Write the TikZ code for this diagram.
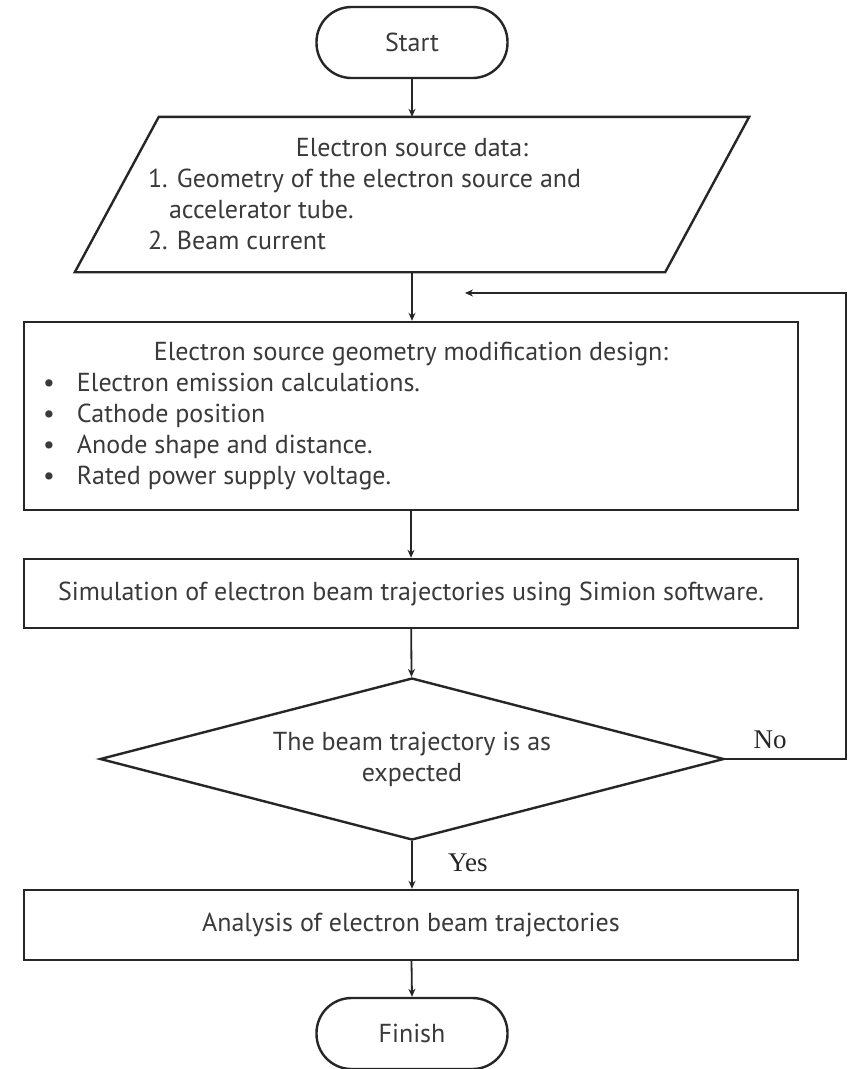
\documentclass[tikz,border=0pt]{standalone}
\usepackage{fontspec}
\setmainfont{PT Sans}
\newfontfamily\serifyn{Liberation Serif}
\usetikzlibrary{shapes.geometric,arrows.meta}
\definecolor{linec}{HTML}{262626}
\definecolor{textc}{HTML}{3A3A3A}
\begin{document}
\begin{tikzpicture}[x=1pt,y=-1pt,
  every node/.style={text=textc,font=\fontsize{26}{31}\selectfont},
  boxline/.style={draw=linec,line width=2.4pt},
  procbox/.style={boxline,rectangle,minimum width=774pt,inner sep=0pt},
  termbox/.style={boxline,rectangle,rounded corners=35pt,minimum width=191pt,minimum height=71pt,inner sep=0pt},
  conn/.style={draw=linec,line width=1.8pt,-{Stealth[length=8pt,width=7pt]}},
  yn/.style={text=linec,font=\serifyn\fontsize{27}{30}\selectfont}]
\useasboundingbox[fill=white] (0,0) rectangle (848,1069);

\node[termbox] (start) at (412,42.5) {Start};

\node[rectangle,minimum width=674pt,minimum height=155pt,inner sep=0pt] (para) at (412,194.5)
 {\begin{minipage}{674pt}\centering Electron source data:\par\raggedright
  \hspace*{73pt}1. Geometry of the electron source and\par
  \hspace*{94pt}accelerator tube.\par
  \hspace*{73pt}2. Beam current\par\end{minipage}};
\draw[boxline,line join=miter] (para.south west) -- ([xshift=84pt]para.north west) -- (para.north east) -- ([xshift=-84pt]para.south east) -- cycle;

\node[procbox,minimum height=188pt] (design) at (411,416)
 {\begin{minipage}{774pt}\centering Electron source geometry modification design:\par\raggedright
  \hspace*{19pt}\makebox[34pt][l]{\textbullet}Electron emission calculations.\par
  \hspace*{19pt}\makebox[34pt][l]{\textbullet}Cathode position\par
  \hspace*{19pt}\makebox[34pt][l]{\textbullet}Anode shape and distance.\par
  \hspace*{19pt}\makebox[34pt][l]{\textbullet}Rated power supply voltage.\par\end{minipage}};

\node[procbox,minimum height=69pt] (sim) at (411,593.5) {Simulation of electron beam trajectories using Simion software.};

\node[boxline,diamond,aspect=3.85,minimum width=624pt,minimum height=162pt,inner sep=0pt,align=center] (dec) at (412,759)
 {The beam trajectory is as\\expected};

\node[procbox,minimum height=70pt] (ana) at (411,925) {Analysis of electron beam trajectories};

\node[termbox] (finish) at (412,1033.5) {Finish};

\coordinate (loopc) at (846,293);
\coordinate (loopend) at (465,293);

\draw[conn] (start) -- (para.north);
\draw[conn] (para.south) -- (design.north -| para.south);
\draw[conn] (design) -- (sim);
\draw[conn] (sim) -- (dec);
\draw[conn] (dec) -- node[yn,right,pos=0.45,xshift=32pt] {Yes} (ana.north -| dec.south);
\draw[conn] (ana) -- (finish.north);
\draw[conn] (dec.east) -| (loopc) -- (loopend);
\node[yn] (nolabel) at (770,740) {No};
\end{tikzpicture}
\end{document}
